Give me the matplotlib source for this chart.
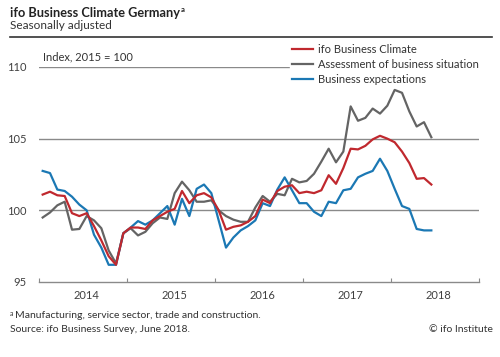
import numpy as np
import matplotlib
matplotlib.use("Agg")
import matplotlib.pyplot as plt

plt.rcParams['font.family'] = ['Lato', 'DejaVu Sans']

# monthly values, Jan 2014 .. Jun 2018 (index 2015 = 100)
climate = [101.1, 101.3, 101.05, 101.0, 99.8, 99.6, 99.8, 98.9, 97.9, 96.8,
           96.2, 98.4, 98.8, 98.8, 98.7, 99.3, 99.6, 99.9, 100.1, 101.35,
           100.5, 101.05, 101.2, 100.9, 100.0, 98.65, 98.85, 98.95, 99.2, 99.6,
           100.75, 100.5, 101.35, 101.65, 101.75, 101.2, 101.3, 101.2, 101.4, 102.45,
           101.85, 102.95, 104.3, 104.25, 104.5, 104.95, 105.2, 105.0, 104.75, 104.1,
           103.3, 102.2, 102.25, 101.8]
situation = [99.5, 99.85, 100.35, 100.6, 98.65, 98.7, 99.6, 99.3, 98.75, 97.2,
             96.3, 98.4, 98.75, 98.25, 98.5, 99.1, 99.5, 99.4, 101.2, 102.0,
             101.4, 100.6, 100.6, 100.7, 100.0, 99.6, 99.35, 99.2, 99.2, 100.2,
             101.0, 100.6, 101.15, 101.05, 102.2, 101.95, 102.05, 102.55, 103.4, 104.3,
             103.35, 104.1, 107.25, 106.25, 106.45, 107.1, 106.75, 107.3, 108.4, 108.2,
             106.9, 105.85, 106.15, 105.1]
expectations = [102.75, 102.6, 101.45, 101.35, 100.95, 100.4, 100.0, 98.3, 97.4, 96.2,
                96.2, 98.4, 98.8, 99.25, 99.0, 99.3, 99.8, 100.3, 99.0, 100.8,
                99.6, 101.5, 101.8, 101.2, 99.3, 97.4, 98.1, 98.6, 98.9, 99.3,
                100.5, 100.3, 101.45, 102.3, 101.4, 100.5, 100.5, 99.9, 99.6, 100.6,
                100.5, 101.4, 101.5, 102.3, 102.55, 102.75, 103.6, 102.75, 101.5, 100.3,
                100.1, 98.7, 98.6, 98.6]
years = ['2014', '2015', '2016', '2017', '2018']

months = np.arange(len(climate))

fig = plt.figure(figsize=(5.0, 3.57), dpi=100)
W, H = 500.0, 357.0
ax = fig.add_axes([39 / W, 1 - 282 / H, 440 / W, 215 / H])

red = '#c0282e'
gray = '#646464'
blue = '#1b78b4'

ax.plot(months, situation, color=gray, lw=1.6, zorder=3, label='Assessment of business situation')
ax.plot(months, expectations, color=blue, lw=1.6, zorder=4, label='Business expectations')
ax.plot(months, climate, color=red, lw=1.6, zorder=5, label='ifo Business Climate')

ax.set_xlim(-0.5, 59.5)
ax.set_ylim(95, 110)
ax.set_yticks([95, 100, 105, 110])
ax.set_yticklabels(['95', '100', '105', '110'])
for v in [100, 105, 110]:
    ax.axhline(v, color='#8a8a8a', lw=1.0, zorder=1)

ax.set_xticks(np.arange(-0.5, 60, 12))
ax.set_xticklabels([])
ax.set_xticks(np.arange(6, 60, 12), minor=True)
ax.set_xticklabels(years, minor=True)
ax.tick_params(axis='x', which='major', direction='in', length=3, color='#8a8a8a')
ax.tick_params(axis='x', which='minor', length=0, pad=6, labelsize=8, labelcolor='#404040')
ax.tick_params(axis='y', length=0, pad=9, labelsize=8, labelcolor='#404040')
for s in ['top', 'right', 'left']:
    ax.spines[s].set_visible(False)
ax.spines['bottom'].set_color('#8a8a8a')
ax.spines['bottom'].set_linewidth(1.0)

h, l = ax.get_legend_handles_labels()
order = [2, 0, 1]
leg = ax.legend([h[i] for i in order], [l[i] for i in order], loc='upper left',
                bbox_to_anchor=(290 / W, 1 - 42 / H), bbox_transform=fig.transFigure,
                frameon=True, fontsize=8, handlelength=1.9, handletextpad=0.4,
                labelspacing=0.35, borderpad=0.2, borderaxespad=0)
leg.get_frame().set_edgecolor('white')
leg.get_frame().set_facecolor('white')
leg.get_frame().set_alpha(1)
leg.set_zorder(6)
for t in leg.get_texts():
    t.set_color('#333333')

fig.text(43 / W, 1 - 57 / H, 'Index, 2015 = 100', fontsize=8,
         color='#333333', va='center', ha='left')

# header
title = fig.text(10 / W, 1 - 13 / H, 'ifo Business Climate Germany', fontsize=9.2,
                 fontweight='bold', color='#222222', va='center', ha='left')
fig.text(10 / W, 1 - 25.5 / H, 'Seasonally adjusted', fontsize=8.5, color='#333333',
         va='center', ha='left')
fig.add_artist(plt.Line2D([10 / W, 492 / W], [1 - 37.3 / H, 1 - 37.3 / H], color='#333333', lw=1.2))

fig.canvas.draw()
bb = title.get_window_extent()
fig.text(bb.x1 / W + 1 / W, 1 - 9 / H, 'a', fontsize=5.5, fontweight='bold',
         color='#222222', va='center', ha='left')

# footer
fig.text(10 / W, 1 - 313 / H, 'a', fontsize=5, color='#333333', va='center', ha='left')
fig.text(15 / W, 1 - 316 / H, 'Manufacturing, service sector, trade and construction.',
         fontsize=7.5, color='#333333', va='center', ha='left')
fig.text(10 / W, 1 - 330 / H, 'Source: ifo Business Survey, June 2018.', fontsize=7.5,
         color='#333333', va='center', ha='left')
fig.text(493 / W, 1 - 330 / H, '\u00a9 ifo Institute', fontsize=7.5, color='#333333',
         va='center', ha='right')

fig.savefig('out.png', dpi=100)
